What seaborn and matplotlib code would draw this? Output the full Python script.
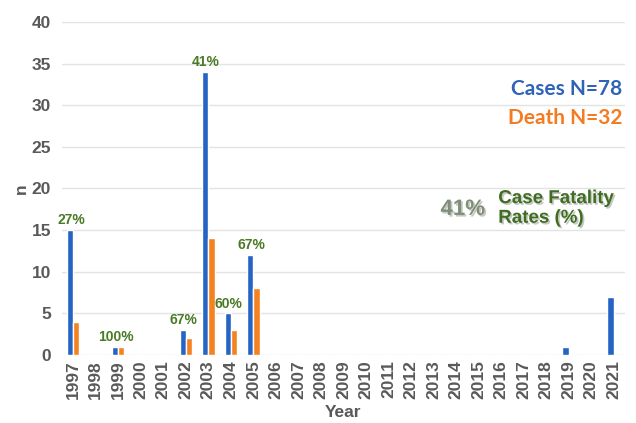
import pandas as pd
import numpy as np
import matplotlib.pyplot as plt
import matplotlib.patheffects as pe
import seaborn as sns

years = [str(y) for y in range(1997, 2022)]
cases = [15, 0, 1, 0, 0, 3, 34, 5, 12, 0, 0, 0, 0, 0, 0, 0, 0, 0, 0, 0, 0, 0, 1, 0, 7]
deaths = [4, 0, 1, 0, 0, 2, 14, 3, 8, 0, 0, 0, 0, 0, 0, 0, 0, 0, 0, 0, 0, 0, 0, 0, 0]
cfr_years = ['1997', '1999', '2002', '2003', '2004', '2005']
cfr_labels = ['27%', '100%', '67%', '41%', '60%', '67%']

df = pd.DataFrame({'Year': years * 2,
                   'n': cases + deaths,
                   'serie': ['Cases'] * len(years) + ['Death'] * len(years)})

sns.set_style('white')
plt.rcParams['font.family'] = ['Liberation Sans', 'DejaVu Sans']

fig = plt.figure(figsize=(6.36, 4.23), dpi=100)
ax = fig.add_axes([0.0975, 0.161, 0.885, 0.787])

sns.barplot(data=df, x='Year', y='n', hue='serie', order=years,
            palette={'Cases': '#2563c4', 'Death': '#f58220'},
            width=0.55, gap=0, legend=False, ax=ax, saturation=1)

ax.set_ylim(0, 40)
ax.set_xlim(-0.5, len(years) - 0.5)
ax.set_yticks(range(0, 41, 5))
ax.yaxis.grid(True, color='#e3e3e3', lw=1)
ax.set_axisbelow(True)
for s in ax.spines.values():
    s.set_visible(False)
ax.tick_params(axis='both', length=0, labelcolor='#595959', labelsize=12.5)
ax.tick_params(axis='x', rotation=90, pad=4)
ax.tick_params(axis='y', pad=8)
for lab in ax.get_xticklabels() + ax.get_yticklabels():
    lab.set_fontweight('bold')
ax.set_xlabel('Year', fontsize=12.5, fontweight='bold', color='#595959', labelpad=4)
ax.set_ylabel('n', fontsize=12.5, fontweight='bold', color='#595959', labelpad=2)

# tasas de letalidad sobre las barras
for yr, lab in zip(cfr_years, cfr_labels):
    i = years.index(yr)
    ax.annotate(lab, (i - 0.1, cases[i]), xytext=(0, 2), textcoords='offset points',
                ha='center', va='bottom', fontsize=10, fontweight='bold', color='#4a7a25')

ax.text(0.995, 0.80, 'Cases N=78', transform=ax.transAxes, ha='right', va='center',
        fontsize=15, fontweight='bold', color='#2e63b8', family=['Lato', 'DejaVu Sans'])
ax.text(0.995, 0.713, 'Death N=32', transform=ax.transAxes, ha='right', va='center',
        fontsize=15, fontweight='bold', color='#f47b20', family=['Lato', 'DejaVu Sans'])

shadow = [pe.withSimplePatchShadow(offset=(1.2, -1.2), shadow_rgbFace='#a0a0a0', alpha=0.6)]
ax.text(0.712, 0.437, '41%', transform=ax.transAxes, ha='center', va='center',
        fontsize=16, fontweight='bold', color='#7f8f76', path_effects=shadow)
ax.text(0.775, 0.44, 'Case Fatality\nRates (%)', transform=ax.transAxes, ha='left', va='center',
        fontsize=13.5, fontweight='bold', color='#3f6e20', linespacing=1.2, path_effects=shadow)

plt.savefig('out.png', dpi=100)
